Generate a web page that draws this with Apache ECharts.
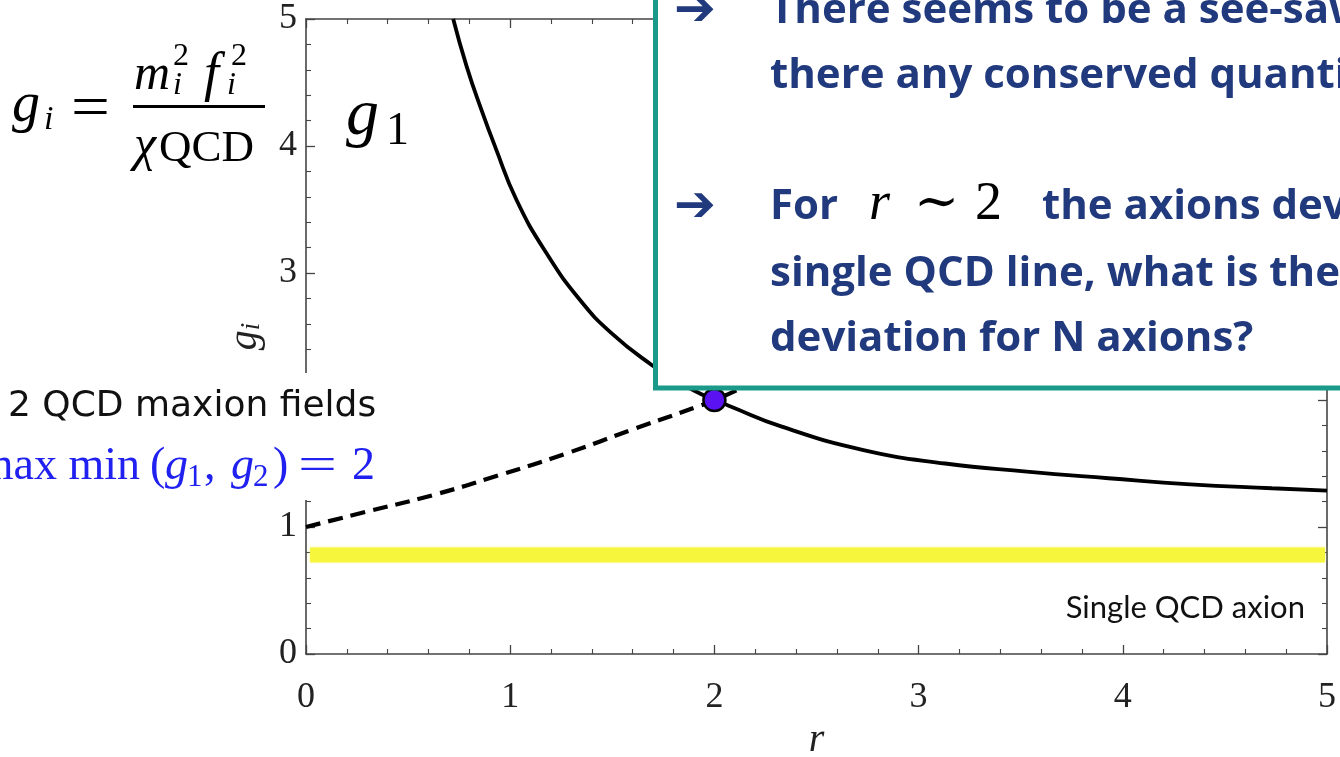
<!DOCTYPE html>
<html>
<head>
<meta charset="utf-8">
<script src="https://cdn.jsdelivr.net/npm/echarts@6/dist/echarts.min.js"></script>
<style>
  html, body { margin: 0; padding: 0; background: #fff; }
  #chart { width: 1340px; height: 757px; }
</style>
</head>
<body>
<div id="chart"></div>
<script>
// g1 as a function of r (solid curve)
const g1R   = [0.721, 0.787, 0.86, 0.926, 1.031, 1.178, 1.342, 1.497, 1.693, 1.8, 1.9, 2.0, 2.07, 2.33, 2.73, 3.13, 3.53, 3.93, 4.33, 4.73, 5.0];
const g1Val = [5.0, 4.625, 4.28, 3.995, 3.575, 3.155, 2.787, 2.525, 2.276, 2.17, 2.075, 2.0, 1.955, 1.79, 1.606, 1.5, 1.436, 1.384, 1.336, 1.305, 1.286];
// g2 as a function of r (dashed curve)
const g2R   = [0, 0.295, 0.624, 0.95, 1.277, 1.603, 1.93, 2.0, 2.1, 2.3];
const g2Val = [1.0, 1.12, 1.252, 1.41, 1.58, 1.77, 1.955, 2.0, 2.07, 2.22];
// crossing point: max min(g1, g2) = 2
const crossR   = [2];
const crossVal = [2];
// single QCD axion band
const singleR   = [0.02, 4.99];
const singleVal = [0.78, 0.78];
// axis range and ticks
const rRange = [0, 5];
const gRange = [0, 5];
const tickStep = 1;

const zip = (xs, ys) => xs.map((x, i) => [x, ys[i]]);

const SERIF = '"Liberation Serif", "DejaVu Serif", serif';
const SANS_BOX = '"Open Sans", Lato, sans-serif';
const NAVY = '#213a7d';
const BLUE = '#2020f0';
const FRAME = '#444';

function txt(x, y, text, size, extra, props) {
  return Object.assign({
    type: 'text', x: x, y: y, z: 60,
    style: Object.assign({
      text: text, fontSize: size, fontFamily: SERIF, fill: '#000',
      align: 'left', verticalAlign: 'middle'
    }, extra || {})
  }, props || {});
}
const boxText = (x, y, text) => txt(x, y, text, 42, { fontFamily: SANS_BOX, fontWeight: 700, fill: NAVY });
const arrow = (x, y) => txt(x, y, '➔', 50, { fontFamily: '"DejaVu Sans", sans-serif', fontWeight: 'bold', fill: NAVY });
const blue = (x, y, text, size, extra, props) => txt(x, y, text, size, Object.assign({ fill: BLUE }, extra || {}), props);

const tickCommon = {
  axisLine: { show: true, onZero: false, lineStyle: { color: FRAME, width: 1.6 } },
  axisTick: { show: true, inside: true, length: 9, lineStyle: { color: FRAME, width: 1.3 } },
  minorTick: { show: true, splitNumber: 5, length: 5, lineStyle: { color: FRAME, width: 1.1 } },
  splitLine: { show: false },
  minorSplitLine: { show: false }
};

const chart = echarts.init(document.getElementById('chart'), null, { renderer: 'canvas' });

chart.setOption({
  animation: false,
  backgroundColor: '#fff',
  grid: { left: 306, right: 13, top: 19, bottom: 103, containLabel: false, outerBoundsMode: 'none' },
  xAxis: [
    Object.assign({
      type: 'value', min: rRange[0], max: rRange[1], interval: tickStep, position: 'bottom',
      axisLabel: { fontFamily: SERIF, fontSize: 36, color: '#222', margin: 26 },
      name: 'r', nameLocation: 'middle', nameGap: 64,
      nameTextStyle: { fontFamily: SERIF, fontStyle: 'italic', fontSize: 40, color: '#222' }
    }, tickCommon),
    Object.assign({
      type: 'value', min: rRange[0], max: rRange[1], interval: tickStep, position: 'top',
      axisLabel: { show: false }
    }, tickCommon)
  ],
  yAxis: [
    Object.assign({
      type: 'value', min: gRange[0], max: gRange[1], interval: tickStep, position: 'left',
      axisLabel: { fontFamily: SERIF, fontSize: 36, color: '#222', margin: 9, padding: [8, 0, 0, 0] },
      name: '{g|g}{s|i}', nameLocation: 'middle', nameGap: 41, nameRotate: 90,
      nameTextStyle: {
        rich: {
          g: { fontFamily: SERIF, fontStyle: 'italic', fontSize: 40, color: '#222', lineHeight: 40, verticalAlign: 'bottom' },
          s: { fontFamily: SERIF, fontStyle: 'italic', fontSize: 27, color: '#222', lineHeight: 18, verticalAlign: 'bottom' }
        }
      }
    }, tickCommon),
    Object.assign({
      type: 'value', min: gRange[0], max: gRange[1], interval: tickStep, position: 'right',
      axisLabel: { show: false }
    }, tickCommon)
  ],
  series: [
    {
      name: 'Single QCD axion', type: 'line', data: zip(singleR, singleVal),
      symbol: 'none', silent: true, z: 1,
      lineStyle: { color: '#f6f63c', width: 15, cap: 'butt', shadowColor: 'rgba(246,246,60,0.6)', shadowBlur: 3 }
    },
    {
      name: 'g1', type: 'line', data: zip(g1R, g1Val),
      symbol: 'none', smooth: 0.5, z: 3,
      lineStyle: { color: '#000', width: 3.8 }
    },
    {
      name: 'g2', type: 'line', data: zip(g2R, g2Val),
      symbol: 'none', smooth: 0.5, z: 3,
      lineStyle: { color: '#000', width: 4.2, type: [15, 8] }
    },
    {
      name: 'max min', type: 'scatter', data: zip(crossR, crossVal),
      symbol: 'circle', symbolSize: 22, z: 5,
      itemStyle: { color: '#5a12f2', borderColor: '#000', borderWidth: 2.5, opacity: 1 }
    }
  ],
  graphic: [
    // g_i = m_i^2 f_i^2 / chi_QCD
    txt(12, 106, 'g', 56, { fontStyle: 'italic' }),
    txt(44, 120, 'i', 34, { fontStyle: 'italic' }),
    txt(71, 110, '=', 60, null, { scaleX: 1.15 }),
    txt(134, 76, 'm', 50, { fontStyle: 'italic' }),
    txt(173, 57, '2', 32),
    txt(173, 86, 'i', 32, { fontStyle: 'italic' }),
    txt(204, 76, 'f', 54, { fontStyle: 'italic' }),
    txt(231, 57, '2', 32),
    txt(227, 86, 'i', 32, { fontStyle: 'italic' }),
    { type: 'rect', z: 60, shape: { x: 133, y: 105, width: 132, height: 3 }, style: { fill: '#000' } },
    txt(134, 147, 'χ', 50, { fontStyle: 'italic' }),
    txt(159, 149, 'QCD', 45),
    // g1 label
    txt(346, 117, 'g', 66, { fontStyle: 'italic' }),
    txt(386, 132, '1', 46),
    // white panel behind the two left annotations (it hides part of the axis)
    { type: 'rect', z: 55, shape: { x: 0, y: 373, width: 386, height: 127 }, style: { fill: '#fff' } },
    txt(8, 407, '2 QCD maxion fields', 36, { fontFamily: '"DejaVu Sans", sans-serif', fill: '#111' }),
    // max min (g1, g2) = 2
    blue(140, 466.5, 'max min', 46, { align: 'right' }),
    blue(150, 466.5, '(', 46),
    blue(165, 466.5, 'g', 46, { fontStyle: 'italic' }),
    blue(187, 477.5, '1', 31),
    blue(204, 466.5, ',', 46),
    blue(231, 466.5, 'g', 46, { fontStyle: 'italic' }),
    blue(253, 477.5, '2', 31),
    blue(273, 466.5, ')', 46),
    blue(298, 466.5, '=', 46, null, { scaleX: 1.5 }),
    blue(352, 466.5, '2', 46),
    txt(1305, 608, 'Single QCD axion', 31, { fontFamily: 'Lato, sans-serif', align: 'right', fill: '#111' }),
    // question box
    {
      type: 'rect', z: 50,
      shape: { x: 655.5, y: -20, width: 720, height: 408 },
      style: { fill: '#fff', stroke: '#1b9a89', lineWidth: 5 }
    },
    arrow(674, 12),
    boxText(770, 11, 'There seems to be a see-saw, is'),
    boxText(770, 76, 'there any conserved quantity?'),
    arrow(674, 208),
    boxText(770, 207, 'For'),
    txt(869, 205, 'r', 54, { fontStyle: 'italic' }),
    txt(914, 205, '∼', 54),
    txt(975, 205, '2', 54),
    boxText(1042, 207, 'the axions deviate from the'),
    boxText(770, 274, 'single QCD line, what is the'),
    boxText(770, 339, 'deviation for N axions?')
  ]
});
</script>
</body>
</html>
